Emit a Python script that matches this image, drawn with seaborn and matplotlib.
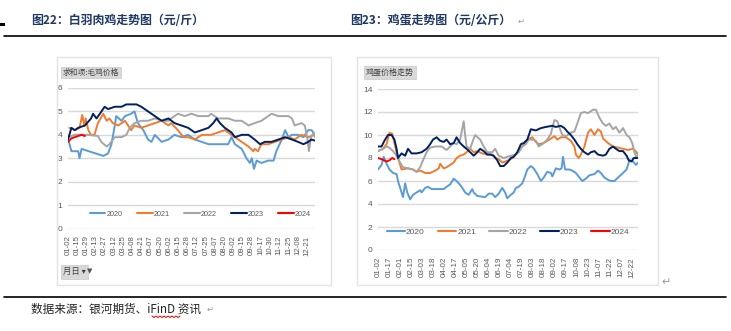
import numpy as np
import pandas as pd
import matplotlib
matplotlib.use("Agg")
import matplotlib.pyplot as plt
import seaborn as sns
from matplotlib.patches import Rectangle

# ---------------- data ----------------
years = ["2020", "2021", "2022", "2023", "2024"]
colors = ["#5B9BD5", "#ED7D31", "#A5A5A5", "#002060", "#FF0000"]

# Left chart: broiler (white-feather chicken) price, day-of-year vs value
chk_2020_day = [1, 6, 16, 18, 21, 53, 60, 65, 70, 72, 80, 85, 94, 99, 104, 112, 119, 124, 129, 139, 149, 158, 168, 178, 188, 198, 208, 237, 242, 247, 257, 264, 269, 272, 275, 279, 286, 296, 304, 308, 316, 321, 326, 331, 340, 348, 355, 360, 365]
chk_2020_val = [3.85, 3.3, 3.3, 3.0, 3.4, 3.1, 3.2, 3.6, 4.4, 4.8, 4.6, 4.8, 4.9, 5.0, 4.5, 4.2, 3.8, 3.7, 4.0, 3.7, 3.8, 4.0, 3.9, 4.0, 3.8, 3.7, 3.6, 3.6, 3.9, 3.6, 3.4, 3.0, 2.8, 3.0, 2.55, 2.9, 2.8, 2.9, 2.9, 3.3, 3.8, 4.2, 3.9, 4.0, 4.0, 3.9, 4.2, 4.2, 4.0]
chk_2021_day = [3, 11, 18, 22, 25, 27, 31, 35, 40, 45, 53, 58, 62, 67, 75, 85, 94, 99, 109, 119, 129, 139, 149, 153, 163, 171, 178, 188, 198, 212, 222, 232, 242, 247, 257, 267, 274, 276, 281, 286, 296, 306, 316, 326, 335, 345, 355, 365]
chk_2021_val = [4.3, 4.2, 4.3, 4.85, 4.4, 4.7, 4.2, 4.0, 4.0, 4.5, 4.9, 4.6, 4.7, 4.5, 4.4, 4.6, 4.2, 4.4, 4.3, 4.4, 4.5, 4.6, 4.4, 4.5, 4.2, 3.9, 3.9, 3.8, 4.0, 4.0, 4.1, 4.2, 4.0, 3.9, 3.7, 3.5, 3.3, 3.4, 3.3, 3.6, 3.6, 3.7, 3.8, 3.9, 3.8, 4.0, 3.9, 4.0]
chk_2022_day = [1, 11, 31, 45, 50, 58, 62, 70, 80, 87, 92, 99, 109, 119, 129, 139, 149, 153, 163, 173, 183, 193, 208, 212, 222, 237, 247, 257, 267, 276, 286, 296, 301, 311, 326, 331, 335, 345, 350, 354, 356, 359, 363, 365]
chk_2022_val = [3.9, 4.0, 4.0, 3.95, 3.7, 3.5, 3.6, 3.9, 3.9, 4.0, 4.3, 4.5, 4.6, 4.6, 4.7, 4.6, 4.6, 4.7, 4.9, 4.8, 4.9, 4.8, 4.8, 4.9, 4.7, 4.7, 4.6, 4.6, 4.4, 4.5, 4.6, 4.8, 4.9, 4.8, 4.8, 4.7, 4.4, 4.5, 4.4, 3.8, 3.3, 3.9, 4.1, 3.9]
chk_2023_day = [1, 6, 11, 16, 26, 35, 38, 43, 48, 55, 60, 70, 80, 87, 94, 102, 109, 119, 129, 139, 149, 158, 168, 178, 188, 198, 208, 215, 220, 225, 232, 237, 242, 247, 257, 267, 276, 284, 291, 301, 311, 321, 331, 340, 348, 355, 360, 365]
chk_2023_val = [3.8, 4.3, 4.2, 4.3, 4.4, 4.7, 4.9, 4.7, 4.9, 5.2, 5.1, 5.2, 5.2, 5.3, 5.3, 5.3, 5.2, 5.0, 4.8, 4.6, 4.7, 4.5, 4.4, 4.3, 4.1, 4.2, 4.3, 4.5, 4.7, 4.5, 4.3, 4.2, 4.1, 3.9, 4.0, 4.0, 3.8, 3.6, 3.7, 3.7, 3.8, 3.9, 3.8, 3.7, 3.6, 3.7, 3.8, 3.75]
chk_2024_day = [1, 6, 11, 16, 21, 26]
chk_2024_val = [3.7, 3.85, 3.9, 3.95, 4.0, 3.95]

# Right chart: egg price
egg_2020_day = [1, 6, 9, 13, 17, 22, 27, 29, 33, 36, 39, 42, 46, 50, 55, 60, 62, 67, 71, 76, 93, 97, 102, 107, 111, 114, 118, 123, 128, 133, 135, 140, 151, 156, 161, 165, 170, 175, 179, 182, 187, 191, 194, 198, 203, 205, 210, 215, 219, 224, 229, 233, 238, 243, 245, 250, 255, 258, 260, 263, 269, 273, 278, 283, 287, 292, 297, 304, 309, 313, 318, 323, 327, 332, 337, 344, 349, 353, 358, 362, 365]
egg_2020_val = [7.0, 7.4, 8.1, 7.5, 7.0, 6.7, 6.6, 6.0, 5.2, 4.6, 5.8, 5.0, 4.4, 4.8, 5.0, 5.2, 5.0, 5.4, 5.5, 5.3, 5.3, 5.5, 5.7, 6.2, 6.0, 5.8, 5.5, 5.0, 4.8, 5.3, 5.0, 4.7, 4.6, 4.9, 4.9, 4.6, 4.9, 5.4, 5.0, 4.5, 4.8, 5.0, 5.4, 5.5, 5.8, 6.1, 7.0, 7.3, 7.1, 6.6, 6.0, 6.3, 6.8, 6.7, 6.4, 7.1, 7.0, 7.1, 8.1, 7.0, 7.0, 6.9, 6.7, 6.3, 6.0, 6.2, 6.5, 6.6, 6.9, 6.7, 6.3, 6.1, 6.0, 6.0, 6.3, 6.7, 7.0, 7.8, 7.7, 7.4, 7.6]
egg_2021_day = [1, 8, 13, 17, 21, 24, 29, 34, 43, 50, 55, 60, 67, 74, 81, 86, 88, 93, 97, 102, 107, 111, 116, 121, 125, 130, 135, 140, 147, 154, 161, 165, 170, 175, 184, 189, 194, 198, 203, 210, 217, 222, 226, 233, 241, 248, 252, 257, 264, 271, 276, 278, 282, 285, 290, 295, 299, 304, 309, 313, 316, 323, 330, 337, 344, 351, 358, 363, 365]
egg_2021_val = [8.6, 8.8, 9.2, 10.2, 10.1, 9.3, 8.0, 7.0, 7.1, 7.0, 6.8, 6.9, 6.7, 6.7, 6.9, 7.1, 7.5, 7.1, 7.2, 7.4, 7.6, 8.0, 8.2, 8.3, 8.5, 8.8, 8.5, 8.6, 8.4, 8.3, 8.3, 8.0, 7.9, 7.6, 7.8, 8.0, 8.3, 8.6, 9.0, 9.6, 9.8, 9.4, 9.2, 9.3, 9.6, 9.9, 9.6, 9.8, 9.8, 9.5, 9.0, 8.3, 8.0, 8.3, 9.0, 10.2, 10.5, 10.0, 10.5, 10.3, 9.7, 9.3, 9.0, 8.9, 8.8, 8.7, 8.8, 8.5, 8.3]
egg_2022_day = [1, 8, 13, 17, 22, 27, 32, 36, 43, 50, 55, 60, 64, 69, 74, 81, 90, 97, 102, 107, 111, 116, 121, 123, 125, 130, 135, 137, 144, 149, 154, 161, 165, 170, 177, 182, 187, 194, 198, 203, 208, 212, 217, 222, 226, 231, 238, 243, 248, 252, 256, 259, 264, 271, 276, 280, 285, 290, 295, 302, 306, 311, 316, 320, 325, 330, 334, 339, 344, 349, 353, 357, 360, 363, 365]
egg_2022_val = [8.6, 8.8, 9.0, 8.9, 8.6, 8.2, 7.6, 7.2, 7.1, 7.0, 6.8, 7.2, 7.8, 8.5, 8.9, 9.0, 9.0, 8.7, 9.0, 9.3, 9.2, 9.6, 11.2, 10.0, 9.0, 8.8, 9.7, 10.0, 9.6, 9.0, 8.5, 8.5, 8.8, 8.2, 8.0, 8.1, 8.2, 8.3, 8.5, 9.0, 9.2, 9.6, 9.6, 9.5, 9.0, 9.2, 9.6, 10.1, 11.3, 11.2, 10.5, 10.0, 9.9, 10.2, 10.3, 11.0, 11.9, 12.0, 11.9, 12.2, 12.2, 11.5, 11.0, 10.8, 11.0, 10.5, 10.7, 10.2, 10.6, 10.0, 9.8, 9.3, 8.5, 8.0, 8.3]
egg_2023_day = [1, 6, 10, 15, 20, 24, 27, 29, 34, 39, 43, 48, 55, 62, 69, 74, 78, 83, 88, 93, 97, 102, 107, 111, 116, 121, 125, 130, 135, 140, 144, 149, 154, 158, 163, 168, 172, 177, 182, 187, 191, 196, 201, 205, 210, 215, 222, 229, 236, 245, 250, 257, 262, 266, 271, 276, 280, 285, 290, 295, 299, 304, 309, 316, 320, 325, 330, 334, 339, 344, 349, 352, 356, 359, 365]
egg_2023_val = [9.0, 9.0, 9.5, 10.0, 10.0, 9.6, 8.8, 8.0, 8.4, 8.2, 8.8, 8.4, 8.4, 8.5, 8.8, 9.2, 9.6, 9.8, 9.5, 9.4, 9.6, 9.2, 9.3, 9.8, 9.3, 9.0, 8.8, 8.5, 8.2, 8.5, 8.8, 8.6, 8.3, 8.3, 8.2, 7.8, 7.3, 7.3, 7.6, 8.0, 8.1, 8.5, 9.2, 9.3, 9.6, 10.5, 10.4, 10.6, 10.7, 10.8, 10.7, 10.8, 10.6, 10.3, 10.0, 9.6, 9.2, 8.8, 8.5, 8.3, 8.5, 8.6, 8.3, 8.2, 8.3, 8.8, 9.0, 8.8, 8.6, 8.6, 8.2, 7.8, 7.7, 8.0, 8.0]
egg_2024_day = [1, 6, 9, 13, 17, 21, 24]
egg_2024_val = [8.0, 7.9, 7.8, 7.7, 7.8, 8.0, 7.9]

chk_ticks = ["01-02", "01-15", "01-29", "02-13", "02-27", "03-12", "03-25", "04-08", "04-21",
             "05-07", "05-20", "06-02", "06-15", "06-28", "07-12", "07-25", "08-07", "08-20",
             "09-02", "09-15", "09-28", "10-17", "10-30", "11-12", "11-25", "12-08", "12-21"]
egg_ticks = ["01-02", "01-17", "02-01", "02-15", "03-03", "03-18", "04-02", "04-17", "05-05",
             "05-20", "06-04", "06-19", "07-04", "07-19", "08-03", "08-18", "09-02", "09-17",
             "10-08", "10-23", "11-07", "11-22", "12-07", "12-22"]

chk_days = [chk_2020_day, chk_2021_day, chk_2022_day, chk_2023_day, chk_2024_day]
chk_vals = [chk_2020_val, chk_2021_val, chk_2022_val, chk_2023_val, chk_2024_val]
egg_days = [egg_2020_day, egg_2021_day, egg_2022_day, egg_2023_day, egg_2024_day]
egg_vals = [egg_2020_val, egg_2021_val, egg_2022_val, egg_2023_val, egg_2024_val]


def long_df(days, vals):
    frames = []
    for y, d, v in zip(years, days, vals):
        frames.append(pd.DataFrame({"day": d, "value": v, "year": y}))
    return pd.concat(frames, ignore_index=True)


df_chk = long_df(chk_days, chk_vals)
df_egg = long_df(egg_days, egg_vals)

# ---------------- style ----------------
sns.set_theme(style="white")
plt.rcParams["font.family"] = ["Liberation Sans", "Noto Sans CJK SC", "DejaVu Sans"]
CJK = ["Noto Sans CJK SC", "DejaVu Sans"]
W, H = 731, 331
fig = plt.figure(figsize=(W / 100, H / 100), dpi=100)
fig.patch.set_facecolor("white")


def fx(px):
    return px / W


def fy(py):
    return 1 - py / H


def add_ax(x0, x1, ytop, ybot):
    return fig.add_axes([fx(x0), fy(ybot), fx(x1 - x0), (ybot - ytop) / H])


grid_c = "#D9D9D9"
txt_c = "#595959"

# frames of the two pivot charts
for (x0, y0, x1, y1) in [(57, 57, 331, 285), (357, 57, 658, 285)]:
    fig.patches.append(Rectangle((fx(x0), fy(y1)), fx(x1 - x0), (y1 - y0) / H,
                                 transform=fig.transFigure, fill=False,
                                 edgecolor="#E3E3E3", lw=1.0))


def style_ax(ax, ymax, ystep, ticks, tick_end, fs_x, fs_y):
    ax.set_facecolor("none")
    ax.set_xlim(1, 365)
    ax.set_ylim(0, ymax)
    ax.set_yticks(np.arange(0, ymax + 0.01, ystep))
    ax.yaxis.grid(True, color=grid_c, lw=1.0)
    ax.xaxis.grid(False)
    for s in ax.spines.values():
        s.set_visible(False)
    pos = np.linspace(1, tick_end, len(ticks))
    ax.set_xticks(pos)
    ax.set_xticklabels(ticks, rotation=90, fontsize=fs_x, color=txt_c)
    ax.tick_params(axis="both", length=0)
    ax.tick_params(axis="x", pad=5)
    ax.tick_params(axis="y", pad=4, labelsize=fs_y, labelcolor=txt_c)
    ax.set_xlabel("")
    ax.set_ylabel("")


# ---------------- left chart ----------------
ax1 = add_ax(68, 315, 88, 228.5)
sns.lineplot(data=df_chk, x="day", y="value", hue="year", palette=colors,
             hue_order=years, lw=1.4, ax=ax1, estimator=None, sort=False)
style_ax(ax1, 6, 1, chk_ticks, 353, 5.6, 6)
leg = ax1.legend(loc="center", bbox_to_anchor=(0.535, 0.103), ncol=5, frameon=False,
                 fontsize=5.2, handlelength=2.2, handletextpad=0.1, columnspacing=2.0)
for t in leg.get_texts():
    t.set_color(txt_c)
for l in leg.get_lines():
    l.set_linewidth(1.5)

# ---------------- right chart ----------------
ax2 = add_ax(378, 638, 89, 250)
sns.lineplot(data=df_egg, x="day", y="value", hue="year", palette=colors,
             hue_order=years, lw=1.4, ax=ax2, estimator=None, sort=False)
style_ax(ax2, 14, 2, egg_ticks, 356, 5.8, 6)
leg2 = ax2.legend(loc="center", bbox_to_anchor=(0.50, 0.112), ncol=5, frameon=False,
                  fontsize=6, handlelength=2.2, handletextpad=0.1, columnspacing=1.6)
for t in leg2.get_texts():
    t.set_color(txt_c)
for l in leg2.get_lines():
    l.set_linewidth(1.5)

# ---------------- pivot field buttons ----------------
btn = dict(boxstyle="square,pad=0.25", facecolor="#D9D9D9", edgecolor="#C8C8C8", lw=0.5)
fig.text(fx(63), fy(72.5), "求和项:毛鸡价格", fontsize=5.6, family=CJK, color="#404040",
         va="center", ha="left", bbox=btn)
fig.text(fx(366), fy(72.5), "鸡蛋价格走势", fontsize=5.8, family=CJK, color="#404040",
         va="center", ha="left", bbox=btn)
fig.text(fx(63), fy(271.5), "月日 ▾", fontsize=6, family=CJK, color="#404040",
         va="center", ha="left",
         bbox=dict(boxstyle="square,pad=0.3", facecolor="#D9D9D9", edgecolor="#C8C8C8", lw=0.5))
fig.text(fx(86.5), fy(271.5), "▼", fontsize=5, family=["DejaVu Sans"], color="#555555",
         va="center", ha="left")

# ---------------- report decorations ----------------
title_c = "#1F3864"
fig.text(fx(31), fy(20), "图22：白羽肉鸡走势图（元/斤）", fontsize=8.6, family=CJK,
         fontweight="bold", color=title_c, va="center", ha="left")
fig.text(fx(350), fy(20), "图23：鸡蛋走势图（元/公斤）", fontsize=8.6, family=CJK,
         fontweight="bold", color=title_c, va="center", ha="left")
fig.text(fx(518), fy(21), "↵", fontsize=6, family=["DejaVu Sans"], color="#999999",
         va="center", ha="left")
fig.text(fx(661), fy(282), "↵", fontsize=8, family=["DejaVu Sans"], color="#999999",
         va="center", ha="left")
fig.lines.append(plt.Line2D([fx(4), fx(726)], [fy(36), fy(36)], transform=fig.transFigure,
                            color="black", lw=1.2))
fig.lines.append(plt.Line2D([fx(4), fx(726)], [fy(297), fy(297)], transform=fig.transFigure,
                            color="black", lw=1.2))
fig.patches.append(Rectangle((fx(0), fy(26)), fx(5), 3 / H, transform=fig.transFigure,
                             facecolor="black", edgecolor="none"))
fig.text(fx(31), fy(309), "数据来源：银河期货、iFinD 资讯", fontsize=8.4, family=CJK,
         color="#222222", va="center", ha="left")
fig.text(fx(207), fy(309), "↵", fontsize=6, family=["DejaVu Sans"], color="#999999",
         va="center", ha="left")
# red spell-check squiggle under "iFinD"
zx = np.linspace(152, 180, 15)
zy = 316 + np.where(np.arange(15) % 2 == 0, 0, 1.5)
fig.lines.append(plt.Line2D(fx(zx), fy(zy), transform=fig.transFigure, color="#E00000", lw=0.7))

fig.savefig("out.png", dpi=100, facecolor="white")
